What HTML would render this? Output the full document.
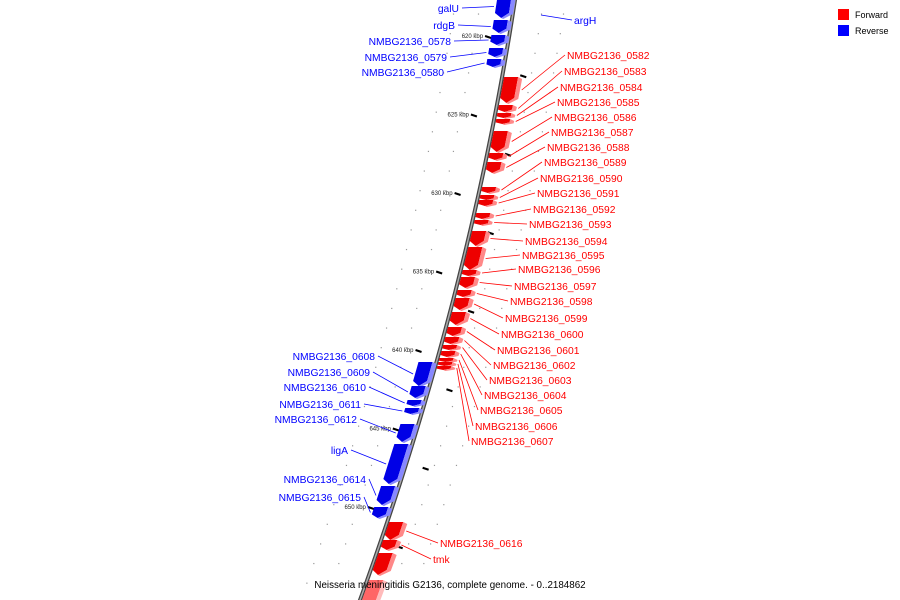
<!DOCTYPE html>
<html><head><meta charset="utf-8"><style>
body{margin:0;background:#fff;}
svg{display:block;font-family:"Liberation Sans","DejaVu Sans",sans-serif;}
</style></head><body>
<svg id="c" width="900" height="600">
<g id="dots"></g><g id="ticks"></g><g id="genes"></g><g id="labels"></g>
<g>
<rect x="838" y="9" width="11" height="11" fill="#f00"/>
<text x="855" y="18" font-size="9">Forward</text>
<rect x="838" y="25" width="11" height="11" fill="#00f"/>
<text x="855" y="34" font-size="9">Reverse</text>
</g>
<text x="450" y="588" font-size="9.8" text-anchor="middle" letter-spacing="0">Neisseria meningitidis G2136, complete genome. - 0..2184862</text>
</svg>
<script>
const NS="http://www.w3.org/2000/svg";
function L(y){return 515-0.1539*y-0.000174*y*y;}
function Y(k){return 37+(k-620)*15.7;}
function mk(t,a,p){const e=document.createElementNS(NS,t);for(const k in a)e.setAttribute(k,a[k]);p.appendChild(e);return e;}
const svg=document.getElementById('c');
let pts=[];for(let y=-5;y<=605;y+=5)pts.push(L(y)+','+y);
const bb=mk('polyline',{points:pts.join(' '),fill:'none',stroke:'#444','stroke-width':4},svg);

svg.insertBefore(bb,document.getElementById('genes'));
const bb2=mk('polyline',{points:pts.join(' '),fill:'none',stroke:'#aaa','stroke-width':1.5},svg);

svg.insertBefore(bb2,document.getElementById('genes'));

const majorTicks=[620,625,630,635,640,645,650];
const minorTicks=[617.5,622.5,627.5,632.5,637.5,642.5,647.5,652.5];
const T=document.getElementById('ticks');
majorTicks.forEach(k=>{const y=Y(k),x=L(y);
 const d=mk('line',{x1:x-24,y1:y-1,x2:x-18,y2:y+1,stroke:'#000','stroke-width':2},T);
 
 const t=mk('text',{x:x-26,y:y+1,'font-size':6,'text-anchor':'end',fill:'#222'},T);t.textContent=k+' kbp';
 });
minorTicks.forEach(k=>{const y=Y(k),x=L(y);
 const d=mk('line',{x1:x+18,y1:y-1,x2:x+24,y2:y+1,stroke:'#000','stroke-width':2},T);
 });
const D=document.getElementById('dots');
for(let k=616;k<=656;k+=1.25){const y=Y(k);if(y<0||y>600)continue;const x=L(y);
 [-60,-35,28,50].forEach(o=>{const c=mk('rect',{x:x+o,y:y,width:1.2,height:1.2,fill:'#999'},D);
 });}

const names=["galU","rdgB","NMBG2136_0578","NMBG2136_0579","NMBG2136_0580","NMBG2136_0582","NMBG2136_0583","NMBG2136_0584","NMBG2136_0585","NMBG2136_0586","NMBG2136_0587","NMBG2136_0588","NMBG2136_0589","NMBG2136_0590","NMBG2136_0591","NMBG2136_0592","NMBG2136_0593","NMBG2136_0594","NMBG2136_0595","NMBG2136_0596","NMBG2136_0597","NMBG2136_0598","NMBG2136_0599","NMBG2136_0600","NMBG2136_0601","NMBG2136_0602","NMBG2136_0603","NMBG2136_0604","NMBG2136_0605","NMBG2136_0606","NMBG2136_0607","NMBG2136_0608","NMBG2136_0609","NMBG2136_0610","NMBG2136_0611","NMBG2136_0612","ligA","NMBG2136_0614","NMBG2136_0615","NMBG2136_0616","tmk","",""];
const starts=[-5,20,35,48,59,77,105,113,119,131,153,162,187,195,200,213,220,231,247,270,277,290,298,312,327,337,345,351,358,362,366,362,386,400,408,424,444,486,507,522,540,553,580];
const ends=[18,33,45,57,67,103,112,118,124,152,160,173,193,200,206,219,225,246,270,276,288,297,310,325,336,344,350,357,362,366,370,386,398,406,414,442,484,505,518,540,550,575,605];
const strands=[-1,-1,-1,-1,-1,1,1,1,1,1,1,1,1,1,1,1,1,1,1,1,1,1,1,1,1,1,1,1,1,1,1,-1,-1,-1,-1,-1,-1,-1,-1,1,1,1,1];
const labelX=[459,455,451,447,444,567,564,560,557,554,551,547,544,540,537,533,529,525,522,518,514,510,505,501,497,493,489,484,480,475,471,375,370,366,361,357,348,366,361,440,433,0,0];
const labelY=[8,25,41,57,72,55,71,87,102,117,132,147,162,178,193,209,224,241,255,269,286,301,318,334,350,365,380,395,410,426,441,356,372,387,404,419,450,479,497,543,559,0,0];
const G=document.getElementById('genes'),LB=document.getElementById('labels');
names.forEach((n,i)=>{
 const y1=starts[i],y2=ends[i],s=strands[i];
 const a=s>0?2:-18,b=s>0?16:-4,f=4;
 const col=s>0?(i>=42?'#f66':'#e00'):'#0000e6',lt=s>0?(i>=42?'#fbb':'#f88'):'#88f';
 const tip=Math.min(5,(y2-y1)/3);
 const x1=L(y1),x2=L(y2),xm=L(y2-tip);
 const main=mk('polygon',{points:[[x1+a,y1],[x1+b,y1],[xm+b,y2-tip],[x2+(a+b)/2,y2],[xm+a,y2-tip]].map(p=>p.join(',')).join(' '),fill:col},G);
 
 const side=mk('polygon',{points:[[x1+b,y1],[x1+b+f,y1+2],[xm+b+f,y2-tip+1],[x2+(a+b)/2+f/2,y2+1],[x2+(a+b)/2,y2],[xm+b,y2-tip]].map(p=>p.join(',')).join(' '),fill:lt},G);
 
 if(!n)return;
 const ym=(y1+y2)/2,gx=L(ym)+(s>0?22:-20);
 const lc=s>0?'#f00':'#00f';
 const lx=s>0?labelX[i]-2:labelX[i]+3;
 const ln=mk('line',{x1:lx,y1:labelY[i],x2:gx,y2:ym,stroke:lc,'stroke-width':0.8},LB);
 
 const t=mk('text',{x:labelX[i],y:labelY[i]+4,'font-size':10.3,fill:lc,'text-anchor':s>0?'start':'end'},LB);
 t.textContent=n;
 
});
const al=mk('line',{x1:572,y1:20,x2:541,y2:15,stroke:'#00f','stroke-width':0.8},LB);

const at=mk('text',{x:574,y:24,'font-size':10.3,fill:'#00f'},LB);at.textContent='argH';

</script>
</body></html>
